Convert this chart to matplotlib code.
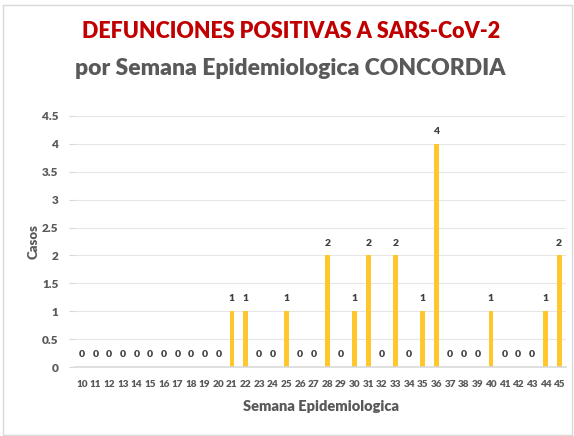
import matplotlib.pyplot as plt
from matplotlib.patches import Rectangle

plt.rcParams['font.family'] = ['Lato', 'DejaVu Sans']

# Deaths per epidemiological week
semanas = list(range(10, 46))
casos = [0, 0, 0, 0, 0, 0, 0, 0, 0, 0, 0,
         1, 1, 0, 0, 1, 0, 0, 2, 0, 1, 2, 0, 2, 0, 1, 4,
         0, 0, 0, 1, 0, 0, 0, 1, 2]

fig = plt.figure(figsize=(5.74, 4.36), dpi=100)
fig.patches.append(Rectangle((0.006, 0.003), 0.99, 0.985, transform=fig.transFigure,
                             fill=False, edgecolor='#d9d9d9', linewidth=1))
ax = fig.add_axes([0.131, 0.158, 0.855, 0.576])
ax.set_axisbelow(True)
ax.grid(axis='y', color='#e6e6e6', linewidth=0.8)

x = list(range(len(semanas)))
bars = ax.bar(x, casos, width=0.36, color='#FFC72C')
for xi, v in zip(x, casos):
    ax.text(xi, v + 0.14, str(v), ha='center', va='bottom', fontsize=7.5,
            fontweight='heavy', color='#404040')

ax.set_xlim(-0.5, len(semanas) - 0.5)
ax.set_ylim(0, 4.5)
ax.set_yticks([0, 0.5, 1, 1.5, 2, 2.5, 3, 3.5, 4, 4.5])
ax.set_yticklabels(['0', '0.5', '1', '1.5', '2', '2.5', '3', '3.5', '4', '4.5'])
ax.set_xticks(x)
ax.set_xticklabels([str(s) for s in semanas])
ax.tick_params(axis='x', length=0, pad=9, labelsize=7.2, labelcolor='#595959')
ax.tick_params(axis='y', length=4, color='#d9d9d9', pad=8, labelsize=8.5, labelcolor='#595959')
for lbl in ax.get_xticklabels() + ax.get_yticklabels():
    lbl.set_fontweight('heavy')

for side in ['top', 'right', 'left']:
    ax.spines[side].set_visible(False)
ax.spines['bottom'].set_color('#d9d9d9')
ax.spines['bottom'].set_linewidth(1.2)

ax.set_xlabel('Semana Epidemiologica', fontsize=10.5, fontweight='heavy', color='#595959', labelpad=8)
ax.set_ylabel('Casos', fontsize=9.5, fontweight='heavy', color='#595959', labelpad=2)

fig.text(0.507, 0.928, 'DEFUNCIONES POSITIVAS A SARS-CoV-2', ha='center', va='center',
         fontsize=15.5, fontweight='heavy', color='#C00000')
fig.text(0.505, 0.843, 'por Semana Epidemiologica CONCORDIA', ha='center', va='center',
         fontsize=16.5, fontweight='heavy', color='#595959')

fig.savefig('out.png', dpi=100)
